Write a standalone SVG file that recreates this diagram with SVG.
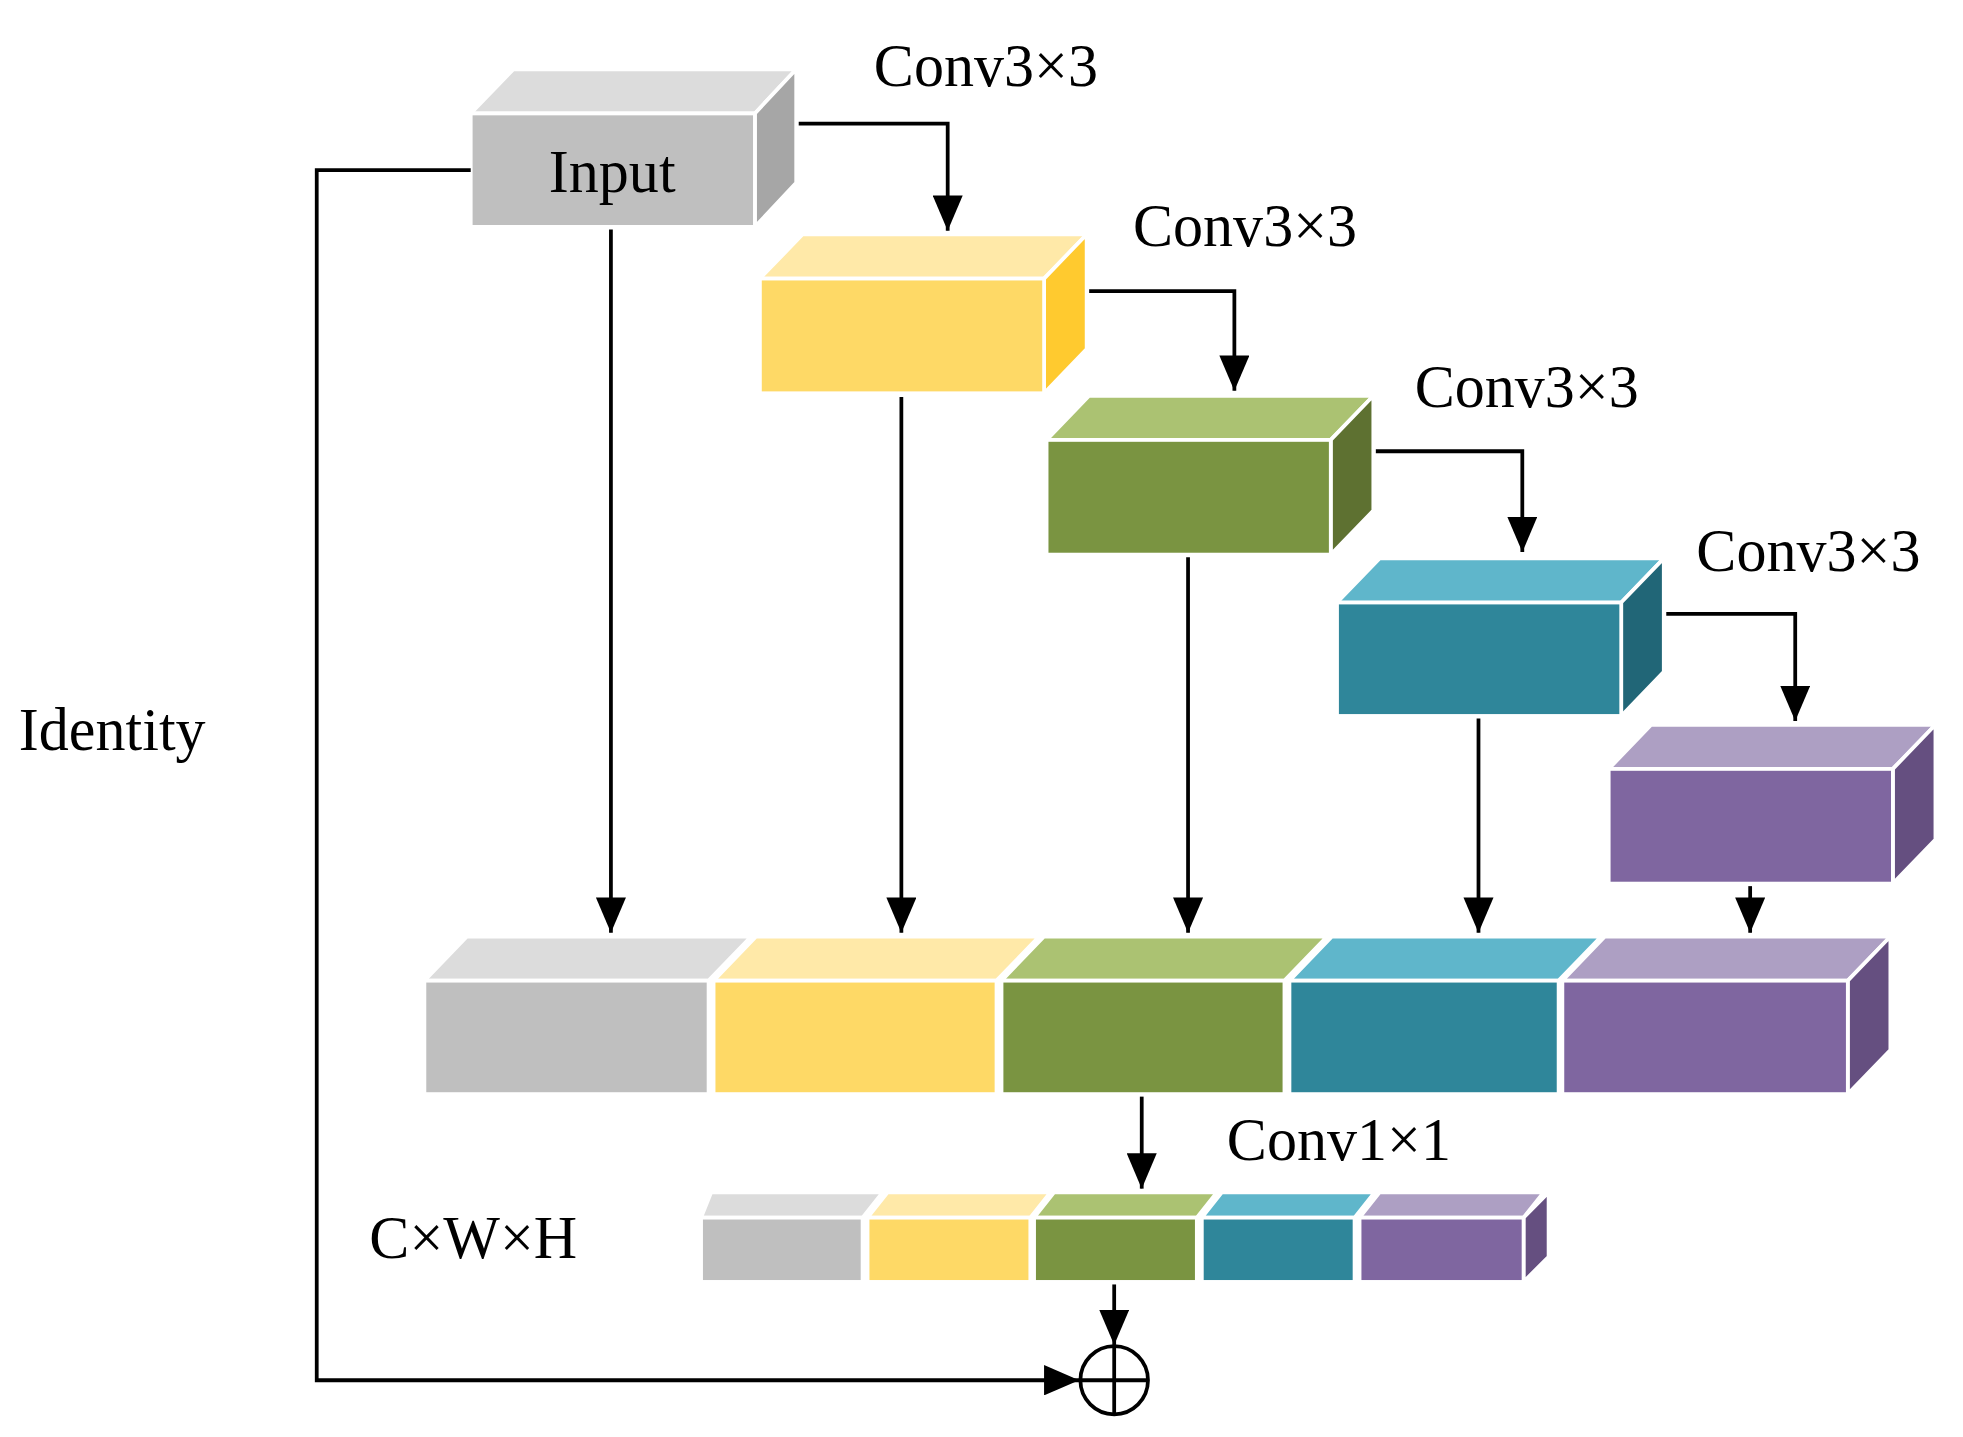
<svg xmlns="http://www.w3.org/2000/svg" width="1963" height="1437" viewBox="0 0 1963 1437">
<defs>
<marker id="ah" markerUnits="userSpaceOnUse" markerWidth="30" markerHeight="24" refX="28" refY="12" orient="auto"><path d="M0,0 L28,12 L0,24 Z" fill="#000"/></marker>
<style>
.c{fill:none;stroke:#000;stroke-width:3}
.w{stroke:#fff;stroke-width:3}
.t{font-family:"Liberation Serif",serif;font-size:48px;fill:#000}
.gf{fill:#bfbfbf}.gt{fill:#dcdcdc}.gs{fill:#a6a6a6}
.yf{fill:#fed966}.yt{fill:#ffe9a8}.ys{fill:#ffca2f}
.nf{fill:#7a9441}.nt{fill:#abc272}.ns{fill:#5e7131}
.bf{fill:#2f869a}.bt{fill:#5fb6cb}.bs{fill:#216677}
.pf{fill:#7f66a0}.pt{fill:#ad9fc3}.ps{fill:#654f80}
</style>
</defs>
<rect width="1963" height="1437" fill="#fff"/>
<g transform="scale(1.2519,1.2605)">
<g id="input">
<polygon class="gt w" points="376,90 410,55 636,55 603,90"/>
<polygon class="gs w" points="603,90 636,55 636,145 603,180"/>
<rect class="gf w" x="376" y="90" width="227" height="90"/>
<text class="t" x="489" y="152" text-anchor="middle">Input</text>
</g>
<g id="conv1">
<polygon class="yt w" points="607,221 641,186 868,186 834,221"/>
<polygon class="ys w" points="834,221 868,186 868,277 834,312"/>
<rect class="yf w" x="607" y="221" width="227" height="91"/>
</g>
<g id="conv2">
<polygon class="nt w" points="836,349 870,314 1097,314 1063,349"/>
<polygon class="ns w" points="1063,349 1097,314 1097,405 1063,440"/>
<rect class="nf w" x="836" y="349" width="227" height="91"/>
</g>
<g id="conv3">
<polygon class="bt w" points="1068,478 1102,443 1329,443 1295,478"/>
<polygon class="bs w" points="1295,478 1329,443 1329,533 1295,568"/>
<rect class="bf w" x="1068" y="478" width="227" height="90"/>
</g>
<g id="conv4">
<polygon class="pt w" points="1285,610 1319,575 1546,575 1512,610"/>
<polygon class="ps w" points="1512,610 1546,575 1546,666 1512,701"/>
<rect class="pf w" x="1285" y="610" width="227" height="91"/>
</g>
<g id="concat">
<polygon class="gt w" points="339,778 373,743 600,743 566,778"/>
<polygon class="yt w" points="570,778 604,743 830,743 796,778"/>
<polygon class="nt w" points="800,778 834,743 1060,743 1026,778"/>
<polygon class="bt w" points="1030,778 1064,743 1279,743 1245,778"/>
<polygon class="pt w" points="1248,778 1282,743 1510,743 1476,778"/>
<polygon class="ps w" points="1476,778 1510,743 1510,833 1476,868"/>
<rect class="gf w" x="339" y="778" width="227" height="90"/>
<rect class="yf w" x="570" y="778" width="226" height="90"/>
<rect class="nf w" x="800" y="778" width="226" height="90"/>
<rect class="bf w" x="1030" y="778" width="215" height="90"/>
<rect class="pf w" x="1248" y="778" width="228" height="90"/>
</g>
<g id="output">
<polygon class="gt w" points="560,966 568,946 705,946 689,966"/>
<polygon class="yt w" points="693,966 709,946 839,946 823,966"/>
<polygon class="nt w" points="826,966 842,946 972,946 956,966"/>
<polygon class="bt w" points="960,966 976,946 1098,946 1082,966"/>
<polygon class="pt w" points="1086,966 1102,946 1233,946 1217,966"/>
<polygon class="ps w" points="1217,966 1237,946 1237,997 1217,1017"/>
<rect class="gf w" x="560" y="966" width="129" height="51"/>
<rect class="yf w" x="693" y="966" width="130" height="51"/>
<rect class="nf w" x="826" y="966" width="130" height="51"/>
<rect class="bf w" x="960" y="966" width="122" height="51"/>
<rect class="pf w" x="1086" y="966" width="131" height="51"/>
</g>
<g id="add">
<circle cx="890" cy="1095" r="27" fill="#fff" stroke="#000" stroke-width="3"/>
<line x1="863" y1="1095" x2="917" y2="1095" stroke="#000" stroke-width="3"/>
<line x1="890" y1="1068" x2="890" y2="1122" stroke="#000" stroke-width="3"/>
</g>
<g id="connectors">
<path class="c" marker-end="url(#ah)" d="M638,98 H757 V183"/>
<path class="c" marker-end="url(#ah)" d="M870,231 H986 V310"/>
<path class="c" marker-end="url(#ah)" d="M1099,358 H1216 V438"/>
<path class="c" marker-end="url(#ah)" d="M1331,487 H1434 V572"/>
<path class="c" marker-end="url(#ah)" d="M488,182 V740"/>
<path class="c" marker-end="url(#ah)" d="M720,315 V740"/>
<path class="c" marker-end="url(#ah)" d="M949,442 V740"/>
<path class="c" marker-end="url(#ah)" d="M1181,570 V740"/>
<path class="c" marker-end="url(#ah)" d="M1398,703 V740"/>
<path class="c" marker-end="url(#ah)" d="M912,870 V943"/>
<path class="c" marker-end="url(#ah)" d="M890,1019 V1067"/>
<path class="c" marker-end="url(#ah)" d="M376,135 H253 V1095 H862"/>
</g>
<g id="labels">
<text class="t" x="698" y="68">Conv3×3</text>
<text class="t" x="905" y="195">Conv3×3</text>
<text class="t" x="1130" y="323">Conv3×3</text>
<text class="t" x="1355" y="453">Conv3×3</text>
<text class="t" x="15" y="595">Identity</text>
<text class="t" x="295" y="998">C×W×H</text>
<text class="t" x="980" y="920">Conv1×1</text>
</g>
</g>
</svg>
